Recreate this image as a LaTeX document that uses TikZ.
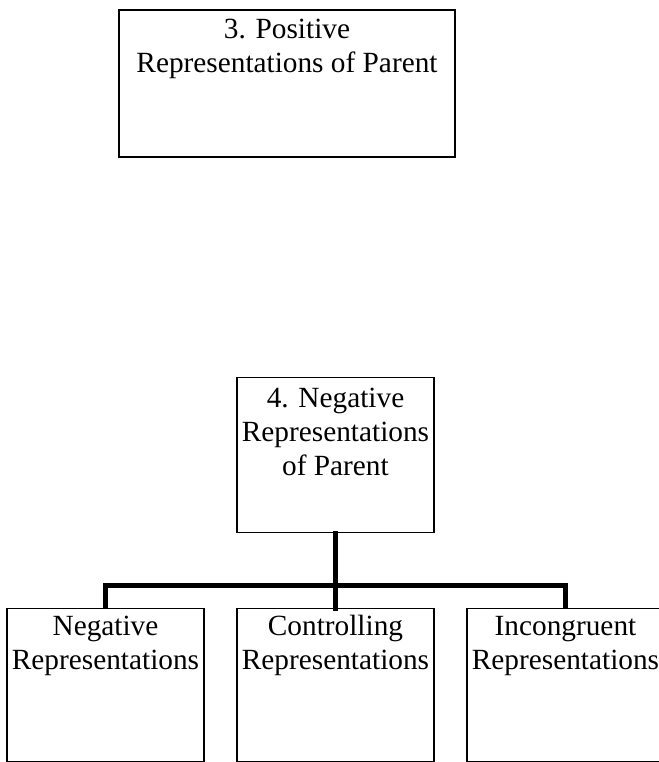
\documentclass[tikz,border=0pt]{standalone}
\usepackage{fontspec}
\setmainfont{Liberation Serif}
\usetikzlibrary{calc}

% box text: height, width, first baseline, lines
\newcommand{\celltext}[4]{\parbox[t][#1][t]{#2}{\centering\rule{0pt}{#3}#4}}

\begin{document}
\begin{tikzpicture}[x=1pt,y=-1pt,
  box/.style={draw,line width=1.3pt,inner sep=0pt,anchor=north},
  conn/.style={line width=5pt,line cap=rect}]
 \useasboundingbox (0,0) rectangle (658,762);
 \fontsize{29.3}{34}\selectfont
 \node[box,line width=2.5pt] (pos) at (287,9)
  {\celltext{147pt}{336pt}{28pt}{3. Positive\\ Representations of Parent}};
 \node[box] (negpar) at (335.5,377)
  {\celltext{155pt}{197pt}{30pt}{4. Negative\\ Representations\\ of Parent}};
 \node[box] (neg) at (105.5,608)
  {\celltext{153pt}{197pt}{27pt}{Negative\\ Representations}};
 \node[box] (ctrl) at (335.5,608)
  {\celltext{153pt}{197pt}{27pt}{Controlling\\ Representations}};
 \node[box] (incong) at (565.5,608)
  {\celltext{153pt}{197pt}{27pt}{Incongruent\\ Representations}};
 \coordinate (bar) at (335.5,585.5);
 \draw[conn] (negpar.south) -- (ctrl.north);
 \draw[conn,line cap=butt] (neg.north) -- (neg.north |- bar) -- (incong.north |- bar) -- (incong.north);
\end{tikzpicture}
\end{document}
